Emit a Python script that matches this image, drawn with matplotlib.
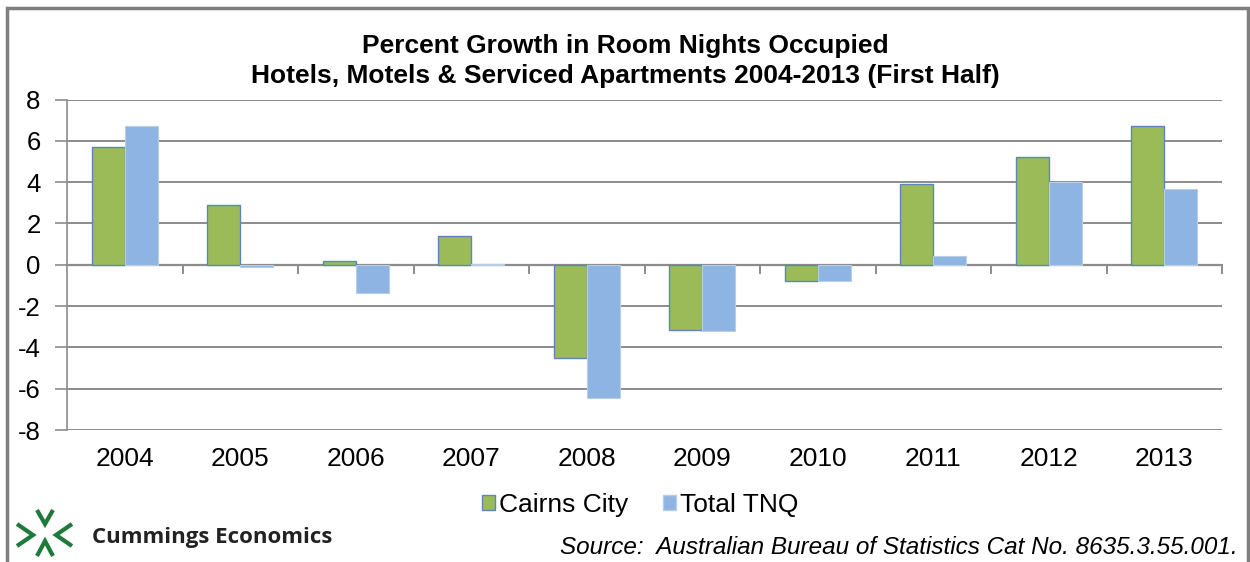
import matplotlib
matplotlib.use("Agg")
import matplotlib.pyplot as plt
import numpy as np
from matplotlib.patches import Rectangle, Patch

# ── Data ──────────────────────────────────────────────────────────────────────
years = ["2004", "2005", "2006", "2007", "2008", "2009", "2010", "2011", "2012", "2013"]
cairns_city = [5.7, 2.9, 0.2, 1.4, -4.5, -3.15, -0.8, 3.9, 5.2, 6.7]
total_tnq = [6.7, -0.1, -1.35, 0.05, -6.45, -3.2, -0.8, 0.4, 4.0, 3.65]
y_ticks = [-8, -6, -4, -2, 0, 2, 4, 6, 8]

GREEN = "#9BBB59"
BLUE = "#8EB4E3"
GRID = "#8C8C8C"
W, H = 1250, 562

plt.rcParams["font.family"] = ["Liberation Sans", "DejaVu Sans"]

fig = plt.figure(figsize=(12.5, 5.62), dpi=100)
ax = fig.add_axes([67 / W, 1 - 430 / H, (1222 - 67) / W, (430 - 99.5) / H])

x = np.arange(len(years))
w = 0.286
ax.bar(x - w / 2, cairns_city, w, color=GREEN, edgecolor="#5A86BE", linewidth=1.0, zorder=3)
ax.bar(x + w / 2, total_tnq, w, color=BLUE, edgecolor="#B9CDE5", linewidth=0.8, zorder=3)

ax.set_xlim(-0.5, len(years) - 0.5)
ax.set_ylim(-8, 8)
ax.set_yticks(y_ticks)
ax.set_yticklabels([str(v) for v in y_ticks], fontsize=18.5)
ax.yaxis.grid(True, color=GRID, linewidth=1.4, zorder=0)
ax.tick_params(axis="y", length=9, width=1.2, color=GRID, pad=10)

# category labels along the bottom, boundary ticks on the zero line
ax.set_xticks(x)
ax.set_xticklabels(years, fontsize=19)
ax.tick_params(axis="x", length=0, pad=12)
for b in np.arange(0.5, len(years) + 0.5, 1.0):
    ax.plot([b, b], [0, -0.42], color=GRID, linewidth=1.4, zorder=2, clip_on=False)
ax.axhline(0, color=GRID, linewidth=1.6, zorder=2)

for s in ["top", "right", "bottom"]:
    ax.spines[s].set_visible(False)
ax.spines["left"].set_color(GRID)
ax.spines["left"].set_linewidth(1.2)

fig.text(0.5, 1 - 46 / H, "Percent Growth in Room Nights Occupied",
         ha="center", va="center", fontsize=19, fontweight="bold")
fig.text(0.5, 1 - 76 / H, "Hotels, Motels & Serviced Apartments 2004-2013 (First Half)",
         ha="center", va="center", fontsize=19, fontweight="bold")

handles = [Patch(facecolor=GREEN, edgecolor="#5A86BE", label="Cairns City"),
           Patch(facecolor=BLUE, edgecolor="#B9CDE5", label="Total TNQ")]
fig.legend(handles=handles, loc="center", bbox_to_anchor=(0.512, 1 - 505 / H),
           ncol=2, frameon=False, fontsize=19, handlelength=0.5, handleheight=0.5,
           handletextpad=0.15, columnspacing=1.3)

fig.text(1238 / W, 1 - 547 / H,
         "Source:  Australian Bureau of Statistics Cat No. 8635.3.55.001.",
         ha="right", va="center", fontsize=17.5, style="italic")

# logo, drawn in figure pixel coordinates
lax = fig.add_axes([0, 0, 1, 1], zorder=-1)
lax.set_xlim(0, W)
lax.set_ylim(H, 0)
lax.axis("off")
lc = "#1E7A3A"
chevrons = [([17, 33, 17], [524, 535, 546]),
            ([72, 56, 72], [524, 535, 546]),
            ([37, 45, 53], [510, 524, 510]),
            ([37, 45, 53], [556, 541, 556])]
for cx, cy in chevrons:
    lax.plot(cx, cy, color=lc, lw=3, solid_capstyle="butt", solid_joinstyle="miter")
fig.text(92 / W, 1 - 537 / H, "Cummings Economics", ha="left", va="center",
         fontsize=16, fontweight="bold", color="#222222", family=["Open Sans", "DejaVu Sans"])

# outer frame
fig.patches.append(Rectangle((7 / W, -0.05), (1248 - 7) / W, 1.05 - 8 / H,
                             transform=fig.transFigure, fill=False,
                             edgecolor="#7F7F7F", linewidth=2.5))

fig.savefig("out.png", dpi=100, facecolor="white")
